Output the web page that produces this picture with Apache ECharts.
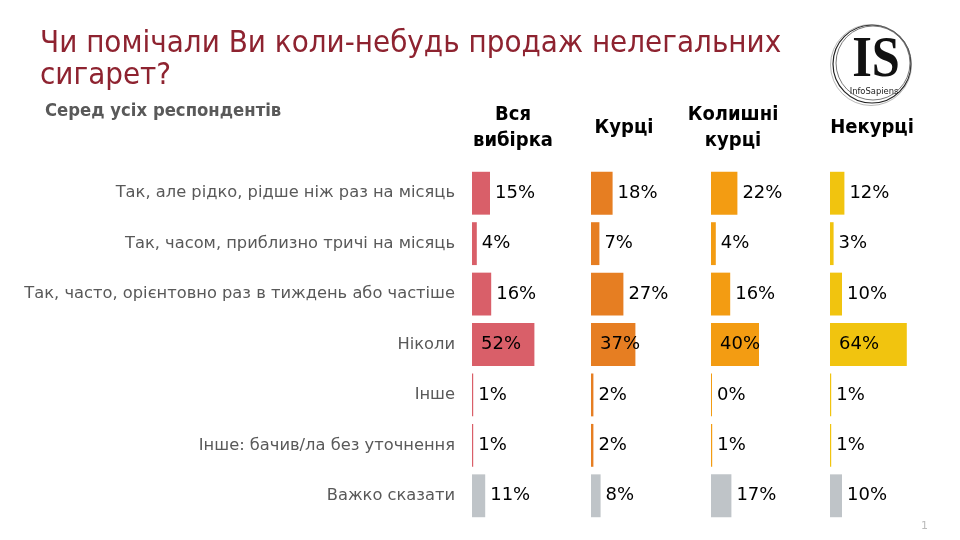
<!DOCTYPE html>
<html>
<head>
<meta charset="utf-8">
<script src="https://cdn.jsdelivr.net/npm/echarts@6/dist/echarts.min.js"></script>
<style>html,body{margin:0;padding:0;background:#fff}#c{width:960px;height:540px}</style>
</head>
<body>
<div id="c"></div>
<script>
const categories = [
  'Так, але рідко, рідше ніж раз на місяць',
  'Так, часом, приблизно тричі на місяць',
  'Так, часто, орієнтовно раз в тиждень або частіше',
  'Ніколи',
  'Інше',
  'Інше: бачив/ла без уточнення',
  'Важко сказати'
];
const groups = ['Вся\nвибірка', 'Курці', 'Колишні\nкурці', 'Некурці'];
const allSample = [15, 4, 16, 52, 1, 1, 11];
const smokers = [18, 7, 27, 37, 2, 2, 8];
const formerSmokers = [22, 4, 16, 40, 0, 1, 17];
const nonSmokers = [12, 3, 10, 64, 1, 1, 10];
const seriesValues = [allSample, smokers, formerSmokers, nonSmokers];

const panelColors = ['#D95F69', '#E67E22', '#F39C12', '#F1C40F'];
const grayColor = '#BFC4C8';
const lefts = [472, 591, 711, 830];
const headerX = [513, 624, 733, 872];
const FONT = 'DejaVu Sans';

const grids = [], xAxes = [], yAxes = [], series = [];
seriesValues.forEach((vals, i) => {
  grids.push({ left: lefts[i], top: 168, width: 120, height: 353 });
  xAxes.push({ gridIndex: i, type: 'value', min: 0, max: 100, show: false });
  yAxes.push({
    gridIndex: i, type: 'category', data: categories, inverse: true,
    axisLine: { show: false }, axisTick: { show: false },
    axisLabel: { show: i === 0, margin: 17, fontFamily: FONT, fontSize: 16.3, color: '#595959' }
  });
  series.push({
    type: 'bar', xAxisIndex: i, yAxisIndex: i,
    barCategoryGap: '15%', barMinHeight: 1,
    data: vals.map((v, k) => ({
      value: v,
      itemStyle: { color: k === categories.length - 1 ? grayColor : panelColors[i] },
      label: v >= 30 ? { position: 'insideLeft', distance: 9 } : { position: 'right', distance: 5 }
    })),
    label: { show: true, formatter: '{c}%', fontFamily: FONT, fontSize: 18, color: '#000' }
  });
});

const graphic = [
  { type: 'text', x: 40, y: 28, scaleX: 0.9, originX: 0, originY: 0,
    style: { x: 0, y: 0, text: 'Чи помічали Ви коли-небудь продаж нелегальних\nсигарет?', font: '31px "DejaVu Sans"', fill: '#8E2330', lineHeight: 32, verticalAlign: 'top' } },
  { type: 'text', x: 45, y: 112, scaleX: 0.97, originX: 0, originY: 0,
    style: { x: 0, y: 0, text: 'Серед усіх респондентів', font: 'bold 17px "DejaVu Sans"', fill: '#595959', verticalAlign: 'middle' } },
  { type: 'text', x: 921, y: 521, style: { text: '1', font: '11px "DejaVu Sans"', fill: '#BBBBBB' } },
  // logo
  { type: 'circle', shape: { cx: 872, cy: 64, r: 39 }, style: { fill: 'none', stroke: '#222', lineWidth: 1.2 } },
  { type: 'circle', shape: { cx: 873, cy: 63, r: 37 }, style: { fill: 'none', stroke: '#555', lineWidth: 0.8 } },
  { type: 'circle', shape: { cx: 871, cy: 65, r: 40.5 }, style: { fill: 'none', stroke: '#888', lineWidth: 0.6 } },
  { type: 'text', x: 876, y: 62, scaleX: 0.9, originX: 0, originY: 0,
    style: { x: 0, y: 0, text: 'IS', font: 'bold 56px "Liberation Serif"', fill: '#111', align: 'center', verticalAlign: 'middle' } },
  { type: 'text', x: 874, y: 92, scaleX: 0.88, originX: 0, originY: 0,
    style: { x: 0, y: 0, text: 'InfoSapiens', font: '9.5px "DejaVu Sans"', fill: '#222', align: 'center', verticalAlign: 'middle' } }
];
groups.forEach((g, i) => {
  graphic.push({ type: 'text', x: headerX[i], y: 128, scaleX: 0.9, originX: 0, originY: 0,
    style: { x: 0, y: 0, text: g, font: 'bold 20px "DejaVu Sans"', fill: '#000', align: 'center', verticalAlign: 'middle', lineHeight: 26 } });
});

const chart = echarts.init(document.getElementById('c'));
chart.setOption({
  animation: false,
  grid: grids, xAxis: xAxes, yAxis: yAxes, series: series, graphic: graphic
});
</script>
</body>
</html>
